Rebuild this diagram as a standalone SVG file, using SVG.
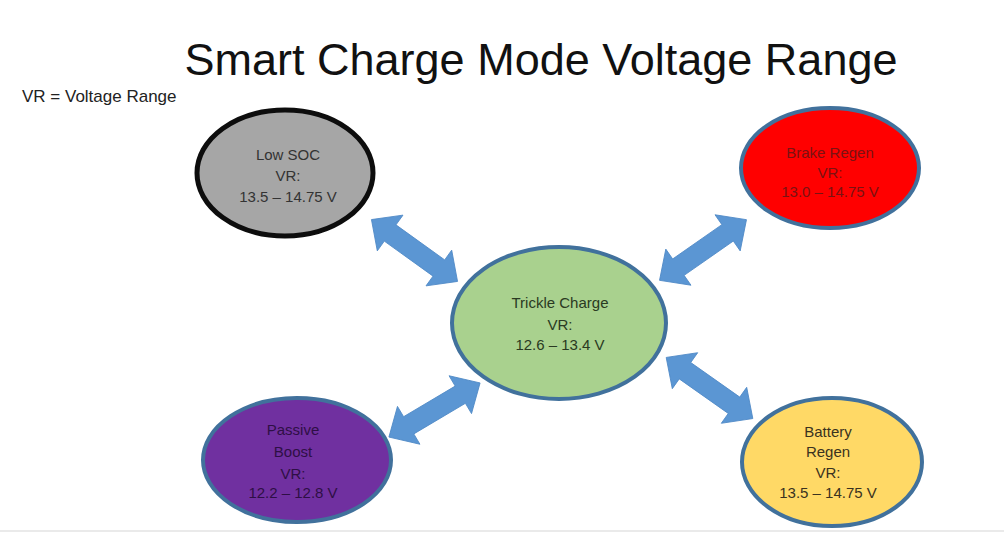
<svg xmlns="http://www.w3.org/2000/svg" xmlns:xlink="http://www.w3.org/1999/xlink" width="1004" height="555" viewBox="0 0 1004 555">
<style>
.t{font-family:"Liberation Sans",Arial,sans-serif;text-anchor:middle;font-size:15px}
.ell{stroke:#41719c;stroke-width:4}
.arr{fill:#5b96d3;stroke:#4f89c6;stroke-width:0.8}
</style>
<defs>
<path id="dbl" d="M-53,0 L-30,-22 L-30,-10 L30,-10 L30,-22 L53,0 L30,22 L30,10 L-30,10 L-30,22 Z"/>
</defs>
<rect width="1004" height="555" fill="#ffffff"/>
<line x1="0" y1="531" x2="1004" y2="531" stroke="#e3e3e3" stroke-width="1.5"/>
<text x="541" y="75" font-family="Liberation Sans, Arial, sans-serif" font-size="45" text-anchor="middle" fill="#111">Smart Charge Mode Voltage Range</text>
<text x="22" y="102" font-family="Liberation Sans, Arial, sans-serif" font-size="17" fill="#222">VR = Voltage Range</text>
<g id="connectors">
<use xlink:href="#dbl" class="arr" transform="translate(414.5,250.5) rotate(35.7)"/>
<use xlink:href="#dbl" class="arr" transform="translate(703,250) rotate(-34.9)"/>
<use xlink:href="#dbl" class="arr" transform="translate(434.5,410) rotate(-30.7)"/>
<use xlink:href="#dbl" class="arr" transform="translate(709.5,388) rotate(35.2)"/>
</g>
<g id="low-soc">
<ellipse cx="285" cy="173" rx="88" ry="63" fill="#a6a6a6" stroke="#0d0d0d" stroke-width="5"/>
<text class="t" x="288" y="160" fill="#333">Low SOC</text>
<text class="t" x="288" y="181" fill="#333">VR:</text>
<text class="t" x="288" y="202" fill="#333">13.5 – 14.75 V</text>
</g>
<g id="brake-regen">
<ellipse class="ell" cx="830" cy="168" rx="89" ry="60" fill="#ff0000"/>
<text class="t" x="830" y="158" fill="#7a1212">Brake Regen</text>
<text class="t" x="830" y="178" fill="#7a1212">VR:</text>
<text class="t" x="830" y="197" fill="#7a1212">13.0 – 14.75 V</text>
</g>
<g id="trickle-charge">
<ellipse class="ell" cx="559" cy="323" rx="107" ry="76" fill="#a9d18e"/>
<text class="t" x="560" y="308" font-size="16" fill="#2a3a22">Trickle Charge</text>
<text class="t" x="560" y="330" fill="#2a3a22">VR:</text>
<text class="t" x="560" y="350" fill="#2a3a22">12.6 – 13.4 V</text>
</g>
<g id="passive-boost">
<ellipse class="ell" cx="297" cy="460" rx="94" ry="62" fill="#7030a0"/>
<text class="t" x="293" y="435" fill="#2e0f45">Passive</text>
<text class="t" x="293" y="457" fill="#2e0f45">Boost</text>
<text class="t" x="293" y="479" fill="#2e0f45">VR:</text>
<text class="t" x="293" y="498" fill="#2e0f45">12.2 – 12.8 V</text>
</g>
<g id="battery-regen">
<ellipse class="ell" cx="832" cy="462" rx="90" ry="64" fill="#ffd966"/>
<text class="t" x="828" y="437" fill="#3a3220">Battery</text>
<text class="t" x="828" y="457" fill="#3a3220">Regen</text>
<text class="t" x="828" y="478" fill="#3a3220">VR:</text>
<text class="t" x="828" y="498" fill="#3a3220">13.5 – 14.75 V</text>
</g>
</svg>
